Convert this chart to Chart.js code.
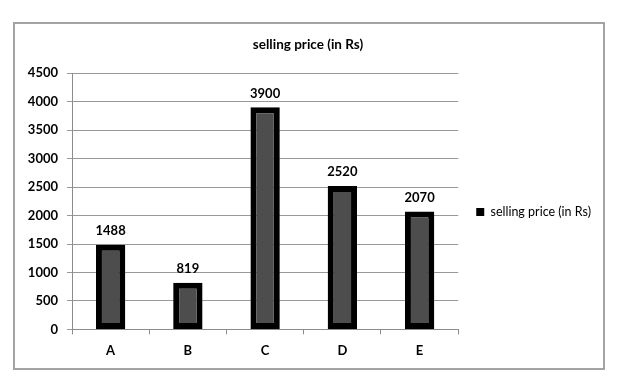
<!DOCTYPE html>
<html>
<head>
<meta charset="utf-8">
<script src="https://cdn.jsdelivr.net/npm/chart.js@4"></script>
<style>
html,body{margin:0;padding:0;background:#fff;}
canvas{display:block;}
</style>
</head>
<body>
<canvas id="c" width="628" height="389"></canvas>
<script>
const categories = ['A', 'B', 'C', 'D', 'E'];
const sellingPrice = [1488, 819, 3900, 2520, 2070];
const seriesName = 'selling price (in Rs)';
const chartTitle = 'selling price (in Rs)';
const yTicks = [0, 500, 1000, 1500, 2000, 2500, 3000, 3500, 4000, 4500];

const FONT = 'Lato, "Open Sans", sans-serif';

const frame = {
  id: 'frame',
  beforeDraw(chart) {
    const ctx = chart.ctx;
    ctx.save();
    ctx.fillStyle = '#fff';
    ctx.fillRect(0, 0, chart.width, chart.height);
    ctx.strokeStyle = '#a3a3a3';
    ctx.lineWidth = 2;
    ctx.strokeRect(14, 23, 590, 346);
    ctx.restore();
  }
};

const legendShift = {
  id: 'legendShift',
  afterLayout(chart) {
    if (chart.legend) {
      chart.legend.top += 16;
      chart.legend.bottom += 16;
    }
  }
};

const valueLabels = {
  id: 'valueLabels',
  afterDatasetsDraw(chart) {
    const ctx = chart.ctx;
    const meta = chart.getDatasetMeta(0);
    ctx.save();
    ctx.font = 'bold 13px ' + FONT;
    ctx.fillStyle = '#000';
    ctx.textAlign = 'center';
    ctx.textBaseline = 'middle';
    meta.data.forEach((bar, i) => {
      ctx.fillText(String(chart.data.datasets[0].data[i]), bar.x, bar.y - 14);
    });
    ctx.restore();
  }
};

new Chart(document.getElementById('c'), {
  type: 'bar',
  data: {
    labels: categories,
    datasets: [{
      label: seriesName,
      data: sellingPrice,
      backgroundColor: '#4d4d4d',
      borderColor: '#000',
      borderWidth: 6,
      borderSkipped: false,
      barPercentage: 0.38,
      categoryPercentage: 1
    }]
  },
  options: {
    responsive: false,
    animation: false,
    devicePixelRatio: 1,
    layout: { padding: { left: 15, right: 27, top: 24, bottom: 21 } },
    plugins: {
      title: {
        display: true,
        text: chartTitle,
        color: '#000',
        font: { family: FONT, size: 13.5, weight: 'bold' },
        padding: { top: 13, bottom: 20 }
      },
      legend: {
        display: true,
        position: 'right',
        labels: {
          boxWidth: 8,
          boxHeight: 8,
          padding: 18,
          color: '#000',
          font: { family: FONT, size: 12.5 },
          generateLabels(chart) {
            return [{ text: seriesName, fillStyle: '#000', strokeStyle: '#000', lineWidth: 0, datasetIndex: 0 }];
          }
        }
      },
      tooltip: { enabled: false }
    },
    scales: {
      x: {
        offset: true,
        grid: { display: true, drawOnChartArea: false, offset: true, tickLength: 5, color: '#8c8c8c' },
        border: { display: true, color: '#8c8c8c' },
        ticks: { color: '#000', padding: 9, font: { family: FONT, size: 13, weight: 'bold' } }
      },
      y: {
        min: 0,
        max: 4500,
        afterBuildTicks(scale) { scale.ticks = yTicks.map(v => ({ value: v })); },
        afterFit(scale) { scale.width = 57; },
        grid: { color: '#999999', tickLength: 5 },
        border: { display: true, color: '#8c8c8c' },
        ticks: {
          color: '#000', padding: 9,
          font: { family: FONT, size: 13, weight: 'bold' },
          callback: (v) => String(v)
        }
      }
    }
  },
  plugins: [frame, legendShift, valueLabels]
});
</script>
</body>
</html>
